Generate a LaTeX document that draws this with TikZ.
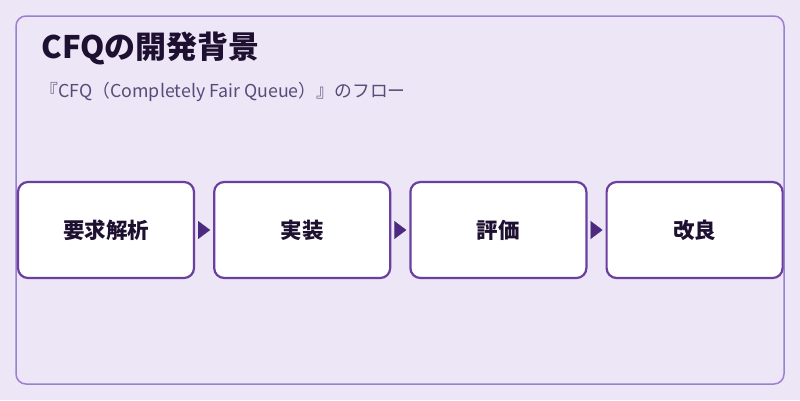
\documentclass[tikz,border=0pt]{standalone}
\usepackage{fontspec}
\setmainfont{Noto Sans CJK JP}
\usetikzlibrary{arrows.meta,positioning}
\definecolor{bgpurple}{HTML}{EDE6F6}
\definecolor{framepurple}{HTML}{9B7FD0}
\definecolor{boxpurple}{HTML}{6A3FA0}
\definecolor{tippurple}{HTML}{4B2A80}
\definecolor{titleink}{HTML}{1E1030}
\definecolor{subink}{HTML}{5A4A78}
\tikzset{
        stepbox/.style = {draw=boxpurple, fill=white, line width=2.2pt,
            rounded corners=10pt, minimum width=176pt, minimum height=96pt,
            font=\bfseries\fontsize{21.5}{26}\selectfont, text=titleink},
        flow/.style = {draw=bgpurple, line width=0.1pt,
            -{Triangle[length=12pt,width=18pt,color=tippurple,fill=tippurple]},
            shorten <=2pt, shorten >=3pt},
    }

\begin{document}
\begin{tikzpicture}[x=1pt,y=-1pt]
    \fill[bgpurple] (0,0) rectangle (800,400);
    \useasboundingbox (0,0) rectangle (800,400);
    \draw[framepurple, line width=1.5pt, rounded corners=10pt] (16,16) rectangle (784,384);

    \node[anchor=base west, font=\bfseries\fontsize{31}{36}\selectfont, text=titleink] (title) at (38,58) {CFQの開発背景};
    \node[anchor=base west, font=\fontsize{17.8}{22}\selectfont, text=subink] (subtitle) at (37,97) {『CFQ（Completely Fair Queue）』のフロー};

    % steps
    \node[stepbox] (s1) at (106,230) {要求解析};
    \node[stepbox, right=18pt of s1] (s2) {実装};
    \node[stepbox, right=18pt of s2] (s3) {評価};
    \node[stepbox, right=18pt of s3] (s4) {改良};

    \foreach \a/\b in {s1/s2,s2/s3,s3/s4}
        \draw[flow] (\a) -- (\b);
\end{tikzpicture}
\end{document}
